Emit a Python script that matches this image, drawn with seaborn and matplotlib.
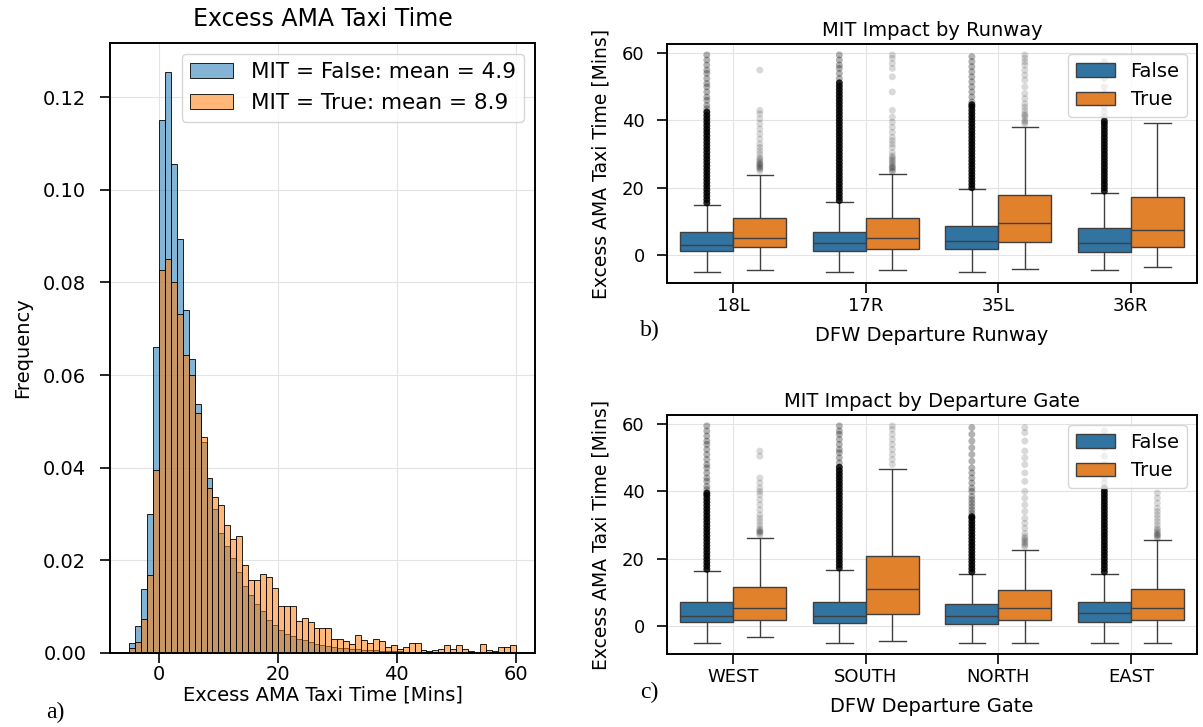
import pandas as pd
import matplotlib
matplotlib.use('Agg')
import matplotlib.pyplot as plt
import seaborn as sns

# ---- histogram data: frequency per 1-minute bin (-5 .. 60) ----
bin_edges = list(range(-5, 61))
freq_false = [0.0021, 0.0058, 0.0138, 0.0300, 0.0660, 0.1150, 0.1254, 0.1055, 0.0893, 0.0740,
              0.0634, 0.0537, 0.0455, 0.0378, 0.0310, 0.0260, 0.0230, 0.0205, 0.0175, 0.0145,
              0.0125, 0.0105, 0.0090, 0.0072, 0.0060, 0.0050, 0.0042, 0.0036, 0.0031, 0.0027,
              0.0023, 0.0020, 0.0017, 0.0015, 0.0013, 0.0011, 0.0010, 0.0009, 0.0008, 0.0007,
              0.0006, 0.0006, 0.0005, 0.0005, 0.0004, 0.0004, 0.0003, 0.0003, 0.0003, 0.0003,
              0.0002, 0.0002, 0.0002, 0.0002, 0.0002, 0.0002, 0.0001, 0.0001, 0.0001, 0.0001,
              0.0001, 0.0001, 0.0001, 0.0001, 0.0001]
freq_true = [0.0010, 0.0023, 0.0073, 0.0168, 0.0395, 0.0826, 0.0851, 0.0800, 0.0731, 0.0643,
             0.0600, 0.0518, 0.0466, 0.0356, 0.0337, 0.0320, 0.0276, 0.0245, 0.0253, 0.0190,
             0.0158, 0.0158, 0.0170, 0.0163, 0.0141, 0.0101, 0.0101, 0.0101, 0.0070, 0.0076,
             0.0067, 0.0055, 0.0055, 0.0055, 0.0030, 0.0030, 0.0025, 0.0020, 0.0039, 0.0027,
             0.0022, 0.0030, 0.0026, 0.0013, 0.0017, 0.0009, 0.0014, 0.0022, 0.0022, 0.0007,
             0.0004, 0.0007, 0.0009, 0.0017, 0.0009, 0.0017, 0.0009, 0.0004, 0.0003, 0.0020,
             0.0006, 0.0004, 0.0013, 0.0013, 0.0017]
label_false = 'MIT = False: mean = 4.9'
label_true = 'MIT = True: mean = 8.9'

# ---- boxplot summaries: [whisker low, q1, median, q3, whisker high] ----
runways = ['18L', '17R', '35L', '36R']
runway_false = [[-5.1, 1.2, 2.9, 6.9, 15.0],
                [-5.1, 1.2, 3.5, 6.9, 15.7],
                [-5.1, 1.7, 4.2, 8.5, 19.5],
                [-4.6, 1.0, 3.5, 8.0, 18.4]]
runway_true = [[-4.5, 2.3, 5.2, 11.0, 23.9],
               [-4.5, 1.9, 5.2, 10.9, 24.2],
               [-4.1, 4.0, 9.4, 17.9, 38.0],
               [-3.5, 2.4, 7.5, 17.2, 39.2]]

gates = ['WEST', 'SOUTH', 'NORTH', 'EAST']
gate_false = [[-5.2, 1.2, 3.0, 7.0, 16.2],
              [-5.2, 0.7, 3.0, 7.0, 16.7],
              [-5.2, 0.5, 3.0, 6.5, 15.5],
              [-5.2, 1.2, 3.7, 7.0, 15.5]]
gate_true = [[-3.5, 1.8, 5.3, 11.5, 26.2],
             [-4.5, 3.5, 11.0, 20.9, 46.8],
             [-5.2, 1.8, 5.3, 10.5, 22.5],
             [-5.2, 1.8, 5.3, 11.0, 25.5]]

# ---- outliers (dense part of the False columns, then the sparse tails) ----
runway_false_dense = [
    [15.5, 16.5, 17.5, 18.5, 19.5, 20.5, 21.5, 22.5, 23.5, 24.5, 25.5, 26.5, 27.5, 28.5,
     29.5, 30.5, 31.5, 32.5, 33.5, 34.5, 35.5, 36.5, 37.5, 38.5, 39.5, 40.5, 41.5, 42.5],
    [16.2, 17.2, 18.2, 19.2, 20.2, 21.2, 22.2, 23.2, 24.2, 25.2, 26.2, 27.2, 28.2, 29.2,
     30.2, 31.2, 32.2, 33.2, 34.2, 35.2, 36.2, 37.2, 38.2, 39.2, 40.2, 41.2, 42.2, 43.2,
     44.2, 45.2, 46.2, 47.2, 48.2, 49.2, 50.2, 51.2],
    [20.0, 21.0, 22.0, 23.0, 24.0, 25.0, 26.0, 27.0, 28.0, 29.0, 30.0, 31.0, 32.0, 33.0,
     34.0, 35.0, 36.0, 37.0, 38.0, 39.0, 40.0, 41.0, 42.0, 43.0, 44.0, 44.7],
    [19.0, 20.0, 21.0, 22.0, 23.0, 24.0, 25.0, 26.0, 27.0, 28.0, 29.0, 30.0, 31.0, 32.0,
     33.0, 34.0, 35.0, 36.0, 37.0, 38.0, 39.0, 39.8],
]
runway_false_sparse = [
    [43.5, 44.5, 46.0, 47.0, 48.5, 50.0, 51.0, 52.5, 54.0, 55.0, 56.5, 58.0, 59.5],
    [52.5, 54.0, 55.5, 56.5, 58.0, 59.5],
    [45.5, 47.0, 48.5, 50.0, 51.5, 53.0, 54.5, 56.0, 57.5, 59.0],
    [41.0, 42.5, 44.0, 46.0, 48.0, 50.0, 52.5, 55.0, 57.5],
]
runway_true_fliers = [
    [25.0, 25.5, 26.0, 26.0, 26.5, 27.0, 27.0, 27.5, 28.0, 28.5, 29.0, 30.0, 31.0, 32.0,
     33.0, 34.5, 36.0, 37.5, 39.0, 40.5, 42.0, 43.0, 55.0],
    [24.8, 25.0, 25.5, 26.0, 26.0, 26.5, 27.0, 27.5, 28.0, 28.5, 29.0, 29.5, 30.5, 32.0,
     33.0, 34.0, 35.0, 36.5, 38.0, 39.5, 41.0, 43.0, 48.5, 53.0, 55.5, 57.0, 58.5, 59.5],
    [39.0, 39.5, 40.0, 41.0, 41.5, 42.0, 43.0, 44.0, 45.0, 46.5, 48.0, 50.0, 52.0, 53.5,
     55.0, 56.5, 57.5, 58.5, 59.5],
    [],
]

gate_false_dense = [
    [16.8, 17.8, 18.8, 19.8, 20.8, 21.8, 22.8, 23.8, 24.8, 25.8, 26.8, 27.8, 28.8, 29.8,
     30.8, 31.8, 32.8, 33.8, 34.8, 35.8, 36.8, 37.8, 38.8, 39.5],
    [17.2, 18.2, 19.2, 20.2, 21.2, 22.2, 23.2, 24.2, 25.2, 26.2, 27.2, 28.2, 29.2, 30.2,
     31.2, 32.2, 33.2, 34.2, 35.2, 36.2, 37.2, 38.2, 39.2, 40.2, 41.2, 42.2, 43.2, 44.2,
     45.2, 46.2, 47.2],
    [16.0, 17.0, 18.0, 19.0, 20.0, 21.0, 22.0, 23.0, 24.0, 25.0, 26.0, 27.0, 28.0, 29.0,
     30.0, 31.0, 32.0, 32.5],
    [16.0, 17.0, 18.0, 19.0, 20.0, 21.0, 22.0, 23.0, 24.0, 25.0, 26.0, 27.0, 28.0, 29.0,
     30.0, 31.0, 32.0, 33.0, 34.0, 35.0, 36.0, 37.0, 38.0, 39.0, 40.0, 41.0],
]
gate_false_sparse = [
    [40.5, 41.5, 43.0, 44.0, 45.5, 47.0, 48.0, 49.5, 51.0, 52.5, 54.0, 55.0, 56.5, 58.0, 59.5],
    [48.5, 50.0, 51.5, 52.5, 54.0, 55.5, 57.0, 58.0, 59.5],
    [33.5, 34.5, 35.5, 36.5, 37.5, 38.5, 40.0, 41.0, 42.5, 44.0, 45.5, 47.0, 49.0, 51.0,
     53.0, 55.0, 57.0, 59.0],
    [42.5, 44.0, 46.0, 48.0, 50.5, 53.0, 55.5, 58.0],
]
gate_true_fliers = [
    [27.0, 27.5, 28.0, 28.0, 28.5, 29.0, 30.0, 31.0, 32.0, 33.0, 34.5, 36.0, 37.5, 39.0,
     40.0, 41.0, 42.5, 44.0, 50.5, 52.0],
    [48.0, 49.5, 51.0, 52.5, 54.0, 55.5, 57.0, 58.5, 59.5],
    [23.5, 24.0, 24.5, 25.0, 25.5, 26.0, 26.5, 27.5, 29.0, 30.5, 32.0, 34.0, 36.0, 38.0,
     40.0, 43.0, 45.5, 48.0, 50.0, 52.0, 55.0, 57.5, 59.0],
    [26.0, 26.5, 27.0, 27.0, 27.5, 28.0, 28.5, 29.0, 30.0, 31.0, 32.0, 33.0, 34.0, 35.0,
     36.5, 38.0, 39.5],
]

hue_order = ['False', 'True']


def long_table(groups, per_false, per_true):
    rows = []
    for g, vf, vt in zip(groups, per_false, per_true):
        rows += [(g, 'False', v) for v in vf]
        rows += [(g, 'True', v) for v in vt]
    return pd.DataFrame(rows, columns=['group', 'MIT', 'value'])


def style_axes(ax, xpad, ypad):
    ax.grid(True, color='#e3e3e3', linewidth=0.8)
    ax.set_axisbelow(True)
    for sp in ax.spines.values():
        sp.set_linewidth(1.4)
    ax.tick_params(length=7, width=1.2)
    ax.tick_params(axis='x', pad=xpad)
    ax.tick_params(axis='y', pad=ypad)


def box_panel(ax, groups, stats_f, stats_t, dense_f, sparse_f, fliers_t, title, xlabel):
    boxes = long_table(groups, stats_f, stats_t)
    sns.boxplot(data=boxes, x='group', y='value', hue='MIT', order=groups,
                hue_order=hue_order, whis=(0, 100), showfliers=False,
                linewidth=1.0, ax=ax)
    empty = [[] for _ in groups]
    black = {'False': 'black', 'True': 'black'}
    for data, a in [(long_table(groups, dense_f, empty), 0.85),
                    (long_table(groups, sparse_f, empty), 0.3),
                    (long_table(groups, empty, fliers_t), 0.15)]:
        sns.stripplot(data=data, x='group', y='value', hue='MIT', order=groups,
                      hue_order=hue_order, dodge=True, jitter=False, palette=black,
                      size=5, alpha=a, linewidth=0, legend=False, ax=ax)
    ax.set_yticks([0, 20, 40, 60])
    style_axes(ax, xpad=3, ypad=9)
    ax.set_title(title, fontsize=14)
    ax.set_xlabel(xlabel, fontsize=14, labelpad=8)
    ax.set_ylabel('Excess AMA Taxi Time [Mins]', fontsize=13.5, labelpad=8)
    ax.tick_params(labelsize=13)
    sns.move_legend(ax, 'upper right', title=None, fontsize=14)


fig = plt.figure(figsize=(12.03, 7.27), dpi=100)
ax0 = fig.add_axes([0.0914, 0.1018, 0.3533, 0.839])
ax1 = fig.add_axes([0.5545, 0.6107, 0.4406, 0.3287])
ax2 = fig.add_axes([0.5545, 0.1004, 0.4406, 0.3287])

# histogram: False first, True layered on top
centers = [e + 0.5 for e in bin_edges[:-1]]
sns.histplot(x=centers, weights=freq_false, bins=bin_edges, color='tab:blue',
             alpha=0.55, edgecolor='black', linewidth=0.6, label=label_false, ax=ax0)
sns.histplot(x=centers, weights=freq_true, bins=bin_edges, color='tab:orange',
             alpha=0.55, edgecolor='black', linewidth=0.6, label=label_true, ax=ax0)
ax0.set_xticks([0, 20, 40, 60])
style_axes(ax0, xpad=2, ypad=10)
ax0.set_title('Excess AMA Taxi Time', fontsize=17, pad=12)
ax0.set_xlabel('Excess AMA Taxi Time [Mins]', fontsize=14, labelpad=1)
ax0.set_ylabel('Frequency', fontsize=14, labelpad=8)
ax0.tick_params(labelsize=14)
ax0.legend(loc='upper right', fontsize=15.5)

box_panel(ax1, runways, runway_false, runway_true, runway_false_dense,
          runway_false_sparse, runway_true_fliers, 'MIT Impact by Runway',
          'DFW Departure Runway')
box_panel(ax2, gates, gate_false, gate_true, gate_false_dense,
          gate_false_sparse, gate_true_fliers, 'MIT Impact by Departure Gate',
          'DFW Departure Gate')

for txt, x, y in [('a)', 0.046, 0.020), ('b)', 0.540, 0.546), ('c)', 0.540, 0.048)]:
    fig.text(x, y, txt, family='Liberation Serif', fontsize=17, ha='center', va='center')

fig.savefig('out.png', dpi=100)
